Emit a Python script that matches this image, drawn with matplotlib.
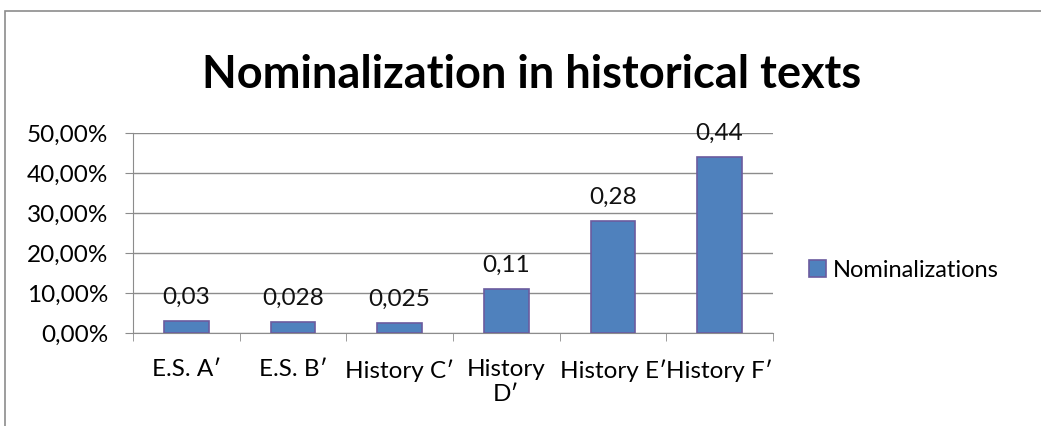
import matplotlib.pyplot as plt
from matplotlib.patches import Rectangle

categories = ["E.S. A\u2032", "E.S. B\u2032", "History C\u2032", "History\nD\u2032", "History E\u2032", "History F\u2032"]
values = [0.03, 0.028, 0.025, 0.11, 0.28, 0.44]
value_labels = ["0,03", "0,028", "0,025", "0,11", "0,28", "0,44"]
y_ticks = [0.0, 0.1, 0.2, 0.3, 0.4, 0.5]
y_tick_labels = ["0,00%", "10,00%", "20,00%", "30,00%", "40,00%", "50,00%"]

plt.rcParams['font.family'] = ['Lato', 'DejaVu Sans']
fs = 17.5

fig = plt.figure(figsize=(10.41, 4.26), dpi=100)
ax = fig.add_axes([0.1278, 0.2183, 0.6147, 0.4695])

# outer chart frame
fig.patches.append(Rectangle((5 / 1041, -0.1), 1.2, 1 - 11 / 426 + 0.1,
                             transform=fig.transFigure, fill=False,
                             edgecolor='#8c8c8c', linewidth=1.2))

x = range(len(categories))
bars = ax.bar(x, values, width=0.42, color='#4F81BD', edgecolor='#6b5b9e',
              linewidth=1.2, zorder=3, label='Nominalizations')

for xi, v, lab in zip(x, values, value_labels):
    ax.annotate(lab, (xi, v), xytext=(0, 12), textcoords='offset points',
                ha='center', va='baseline', fontsize=fs, color='#111111')

ax.set_xlim(-0.5, len(categories) - 0.5)
ax.set_ylim(0, 0.5)
ax.set_yticks(y_ticks)
ax.set_yticklabels(y_tick_labels, fontsize=fs)
ax.set_xticks(list(x))
ax.set_xticklabels(categories, fontsize=fs, linespacing=1.2)
ax.set_xticks([i - 0.5 for i in range(len(categories) + 1)], minor=True)
ax.tick_params(axis='x', which='major', length=0, pad=19)
ax.tick_params(axis='x', which='minor', length=6, color='#8c8c8c')
ax.tick_params(axis='y', length=6, color='#8c8c8c', pad=12)

ax.grid(axis='y', color='#8c8c8c', linewidth=1, zorder=0)
for s in ['top', 'right']:
    ax.spines[s].set_visible(False)
for s in ['left', 'bottom']:
    ax.spines[s].set_color('#8c8c8c')

fig.text(0.511, 0.825, "Nominalization in historical texts", ha='center',
         va='center', fontsize=32.5, fontweight='bold')

fig.legend(handles=[bars], labels=['Nominalizations'], loc='center left',
           bbox_to_anchor=(0.757, 0.365), frameon=False, fontsize=17,
           handlelength=0.7, handleheight=0.7, handletextpad=0.3)

fig.savefig('out.png', dpi=100)
